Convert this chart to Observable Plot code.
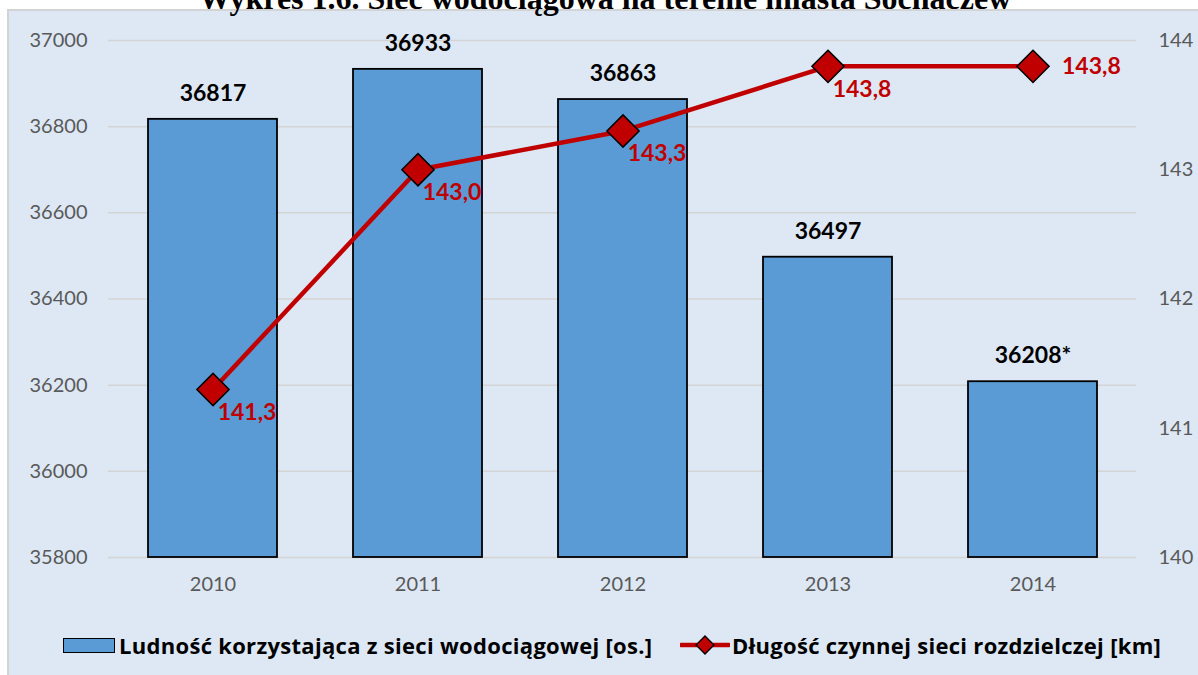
<!DOCTYPE html>
<html>
<head>
<meta charset="utf-8">
<script src="https://cdn.jsdelivr.net/npm/d3@7"></script>
<script src="https://cdn.jsdelivr.net/npm/@observablehq/plot@0.6"></script>
<style>
  html, body { margin: 0; padding: 0; background: #ffffff; width: 1198px; height: 675px; overflow: hidden; }
  #panel { position: absolute; left: 7px; top: 9px; width: 1200px; height: 680px; background: #dde8f4;
           border-left: 2px solid #d3d3d3; border-top: 2px solid #d3d3d3; }
  #chart { position: absolute; left: 0; top: 0; }
  #title { position: absolute; left: 6px; width: 1198px; top: -18px; text-align: center; line-height: 32px;
           font-family: "Liberation Serif", serif; font-weight: bold; font-size: 32px; color: #000; z-index: 5; white-space: nowrap; }
  #legend { position: absolute; left: 0; top: 630px; width: 1198px; font-family: "Open Sans", sans-serif; font-weight: bold;
            font-size: 22px; letter-spacing: 0.3px; color: #000; }
  .item { position: absolute; top: 0; display: flex; align-items: center; height: 30px; white-space: nowrap; }
</style>
</head>
<body>
<div id="panel"></div>
<div id="title">Wykres 1.6. Sieć wodociągowa na terenie miasta Sochaczew</div>
<div id="chart"></div>
<div id="legend"></div>
<script>
const years = ["2010", "2011", "2012", "2013", "2014"];
const population = [36817, 36933, 36863, 36497, 36208];
const populationLabels = ["36817", "36933", "36863", "36497", "36208*"];
const networkKm = [141.3, 143.0, 143.3, 143.8, 143.8];
const networkLabels = ["141,3", "143,0", "143,3", "143,8", "143,8"];
const leftTicks = [35800, 36000, 36200, 36400, 36600, 36800, 37000];
const rightTicks = [140, 141, 142, 143, 144];
const seriesNames = ["Ludność korzystająca z sieci wodociągowej [os.]", "Długość czynnej sieci rozdzielczej [km]"];

const popMin = 35800, popMax = 37000, kmMin = 140, kmMax = 144;
const kmToPop = k => popMin + (k - kmMin) * (popMax - popMin) / (kmMax - kmMin);
const popToKm = p => kmMin + (p - popMin) * (kmMax - kmMin) / (popMax - popMin);

const BLUE = "#5b9bd5", RED = "#c00000";

const data = years.map((y, i) => ({
  year: y, pop: population[i], popLabel: populationLabels[i],
  km: networkKm[i], kmPos: kmToPop(networkKm[i]), kmLabel: networkLabels[i]
}));
const last = data.length - 1;

const chart = Plot.plot({
  width: 1198,
  height: 610,
  marginLeft: 108,
  marginRight: 62,
  marginTop: 40,
  marginBottom: 53,
  style: { background: "transparent", fontFamily: "Lato, sans-serif", fontSize: "20px", color: "#595959", overflow: "visible" },
  x: { domain: years, paddingInner: 0.372, paddingOuter: 0.186 },
  y: { domain: [popMin, popMax] },
  marks: [
    Plot.gridY(leftTicks, { stroke: "#d4d4d4", strokeOpacity: 1, strokeWidth: 1.5 }),
    Plot.axisY({ ticks: leftTicks, tickFormat: d => String(d), tickSize: 0, tickPadding: 21, anchor: "left", label: null }),
    Plot.axisY({ ticks: rightTicks.map(kmToPop), tickFormat: d => String(Math.round(popToKm(d))), tickSize: 0, tickPadding: 22, anchor: "right", label: null }),
    Plot.axisX({ tickSize: 0, tickPadding: 19, label: null }),
    Plot.barY(data, { x: "year", y1: popMin, y2: "pop", fill: BLUE, stroke: "#000", strokeWidth: 1.8 }),
    Plot.text(data, { x: "year", y: "pop", text: "popLabel", dy: -26, fontWeight: "bold", fontSize: 23, fill: "#000" }),
    Plot.line(data, { x: "year", y: "kmPos", stroke: RED, strokeWidth: 4.5 }),
    Plot.dot(data, { x: "year", y: "kmPos", symbol: "diamond2", r: 14.5, fill: RED, stroke: "#000", strokeWidth: 1.5 }),
    Plot.text(data.slice(0, last), { x: "year", y: "kmPos", text: "kmLabel", dx: 34, dy: 23, fontWeight: "bold", fontSize: 23, fill: RED }),
    Plot.text(data.slice(last), { x: "year", y: "kmPos", text: "kmLabel", dx: 29, textAnchor: "start", fontWeight: "bold", fontSize: 23, fill: RED })
  ]
});
document.getElementById("chart").appendChild(chart);

const legend = document.getElementById("legend");
legend.innerHTML = `
  <div class="item" style="left:63px">
    <span style="display:inline-block;width:50px;height:13px;background:${BLUE};border:1.5px solid #000;margin-right:4px"></span>
    <span>${seriesNames[0]}</span>
  </div>
  <div class="item" style="left:680px">
    <svg width="50" height="30" style="margin-right:2px"><line x1="1" x2="49" y1="15" y2="15" stroke="${RED}" stroke-width="4.5" stroke-linecap="round"/><path d="M25,6 L34,15 L25,24 L16,15 Z" fill="${RED}" stroke="#000" stroke-width="1.3"/></svg>
    <span>${seriesNames[1]}</span>
  </div>`;
</script>
</body>
</html>
